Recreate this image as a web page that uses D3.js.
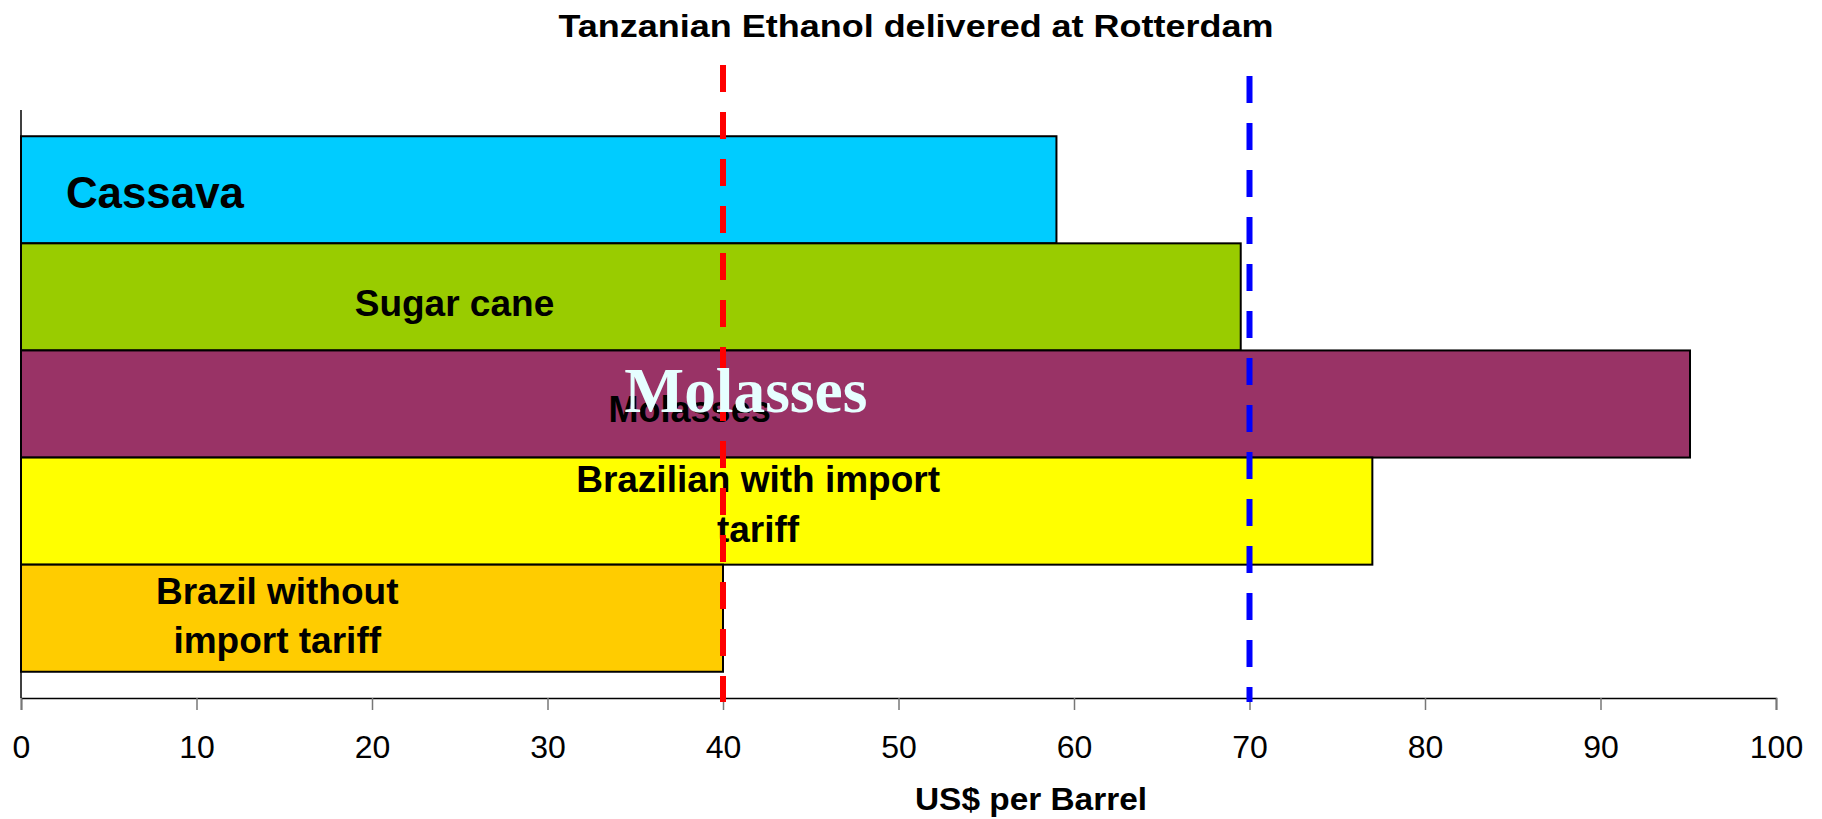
<!DOCTYPE html>
<html>
<head>
<meta charset="utf-8">
<script src="https://cdn.jsdelivr.net/npm/d3@7"></script>
<style>
  body { margin: 0; background: #fff; }
</style>
</head>
<body>
<div class="chart"></div>
<script>
const width = 1822;
const height = 819;
const sans = "'Liberation Sans', Arial, sans-serif";
const serif = "'Liberation Serif', 'Times New Roman', serif";

// data
const categories = ["Cassava", "Sugar cane", "Molasses", "Brazilian with import tariff", "Brazil without import tariff"];
const values = [59, 69.5, 95.1, 77, 40];
const barColors = ["#00ccff", "#99cc00", "#993366", "#ffff00", "#ffcc00"];
const labelLines = [["Cassava"], ["Sugar cane"], ["Molasses"], ["Brazilian with import", "tariff"], ["Brazil without", "import tariff"]];
const refValues = [40, 70];
const refColors = ["#ff0000", "#0000ff"];
const xTicks = [0, 10, 20, 30, 40, 50, 60, 70, 80, 90, 100];
const titleText = "Tanzanian Ethanol delivered at Rotterdam";
const xTitle = "US$ per Barrel";
const overlayText = "Molasses";

const plot = {left: 21, right: 1776, top: 110, bottom: 698};

const x = d3.scaleLinear().domain([0, 100]).range([plot.left, plot.right]);
const y = d3.scaleBand().domain(categories).range([plot.top, plot.bottom])
  .paddingInner(0).paddingOuter(0.245);

const svg = d3.select(".chart")
  .append("svg")
  .attr("width", width)
  .attr("height", height)
  .style("font-family", sans);

// title
svg.append("text")
  .attr("x", 916)
  .attr("y", 37)
  .attr("text-anchor", "middle")
  .attr("font-size", 32)
  .attr("font-weight", "bold")
  .attr("textLength", 715)
  .attr("lengthAdjust", "spacingAndGlyphs")
  .text(titleText);

// y axis line
svg.append("line")
  .attr("x1", plot.left).attr("x2", plot.left)
  .attr("y1", plot.top).attr("y2", plot.bottom)
  .attr("stroke", "#000").attr("stroke-width", 1.5);

// bars
svg.append("g")
  .selectAll("rect")
  .data(categories)
  .join("rect")
  .attr("x", x(0))
  .attr("y", d => y(d))
  .attr("width", (d, i) => x(values[i]) - x(0))
  .attr("height", y.bandwidth())
  .attr("fill", (d, i) => barColors[i])
  .attr("stroke", "#000")
  .attr("stroke-width", 2);

// x axis
const xAxis = svg.append("g")
  .attr("transform", `translate(0,${plot.bottom})`)
  .call(d3.axisBottom(x).tickValues(xTicks).tickSize(12).tickPadding(25).tickFormat(d3.format("d")));
xAxis.select(".domain").attr("stroke", "#000").attr("stroke-width", 1.5);
xAxis.selectAll(".tick line").attr("stroke", "#777").attr("stroke-width", 1.5);
xAxis.selectAll(".tick text")
  .attr("font-size", 32)
  .style("font-family", sans)
  .attr("fill", "#000");

svg.append("text")
  .attr("x", 1031)
  .attr("y", 810)
  .attr("text-anchor", "middle")
  .attr("font-size", 32)
  .attr("font-weight", "bold")
  .attr("textLength", 232)
  .attr("lengthAdjust", "spacingAndGlyphs")
  .text(xTitle);

// bar labels: anchor value, anchor type, baseline offsets inside band, size
const labelSpec = [
  {at: 2.56, anchor: "start", dy: [72], size: 45, len: 178},
  {at: 24.7, anchor: "middle", dy: [73], size: 37},
  {at: 38.1, anchor: "middle", dy: [72], size: 36},
  {at: 42.0, anchor: "middle", dy: [34, 84], size: 37},
  {at: 14.6, anchor: "middle", dy: [39, 88], size: 37}
];

categories.forEach((c, i) => {
  const s = labelSpec[i];
  labelLines[i].forEach((line, j) => {
    const t = svg.append("text")
      .attr("x", x(s.at))
      .attr("y", y(c) + s.dy[j])
      .attr("text-anchor", s.anchor)
      .attr("font-size", s.size)
      .attr("font-weight", "bold")
      .attr("fill", "#000")
      .text(line);
    if (s.len) t.attr("textLength", s.len).attr("lengthAdjust", "spacingAndGlyphs");
  });
});

// dashed reference lines
svg.append("g")
  .selectAll("line")
  .data(refValues)
  .join("line")
  .attr("x1", d => x(d)).attr("x2", d => x(d))
  .attr("y1", (d, i) => i === 0 ? 65 : 76)
  .attr("y2", 702)
  .attr("stroke", (d, i) => refColors[i])
  .attr("stroke-width", 6)
  .attr("stroke-dasharray", "27,20");

// overlaid serif label on the molasses bar
svg.append("text")
  .attr("x", x(41.3))
  .attr("y", y("Molasses") + 62)
  .attr("text-anchor", "middle")
  .style("font-family", serif)
  .attr("font-size", 64)
  .attr("font-weight", "bold")
  .attr("fill", "#e6ffff")
  .attr("textLength", 243)
  .attr("lengthAdjust", "spacingAndGlyphs")
  .text(overlayText);
</script>
</body>
</html>
